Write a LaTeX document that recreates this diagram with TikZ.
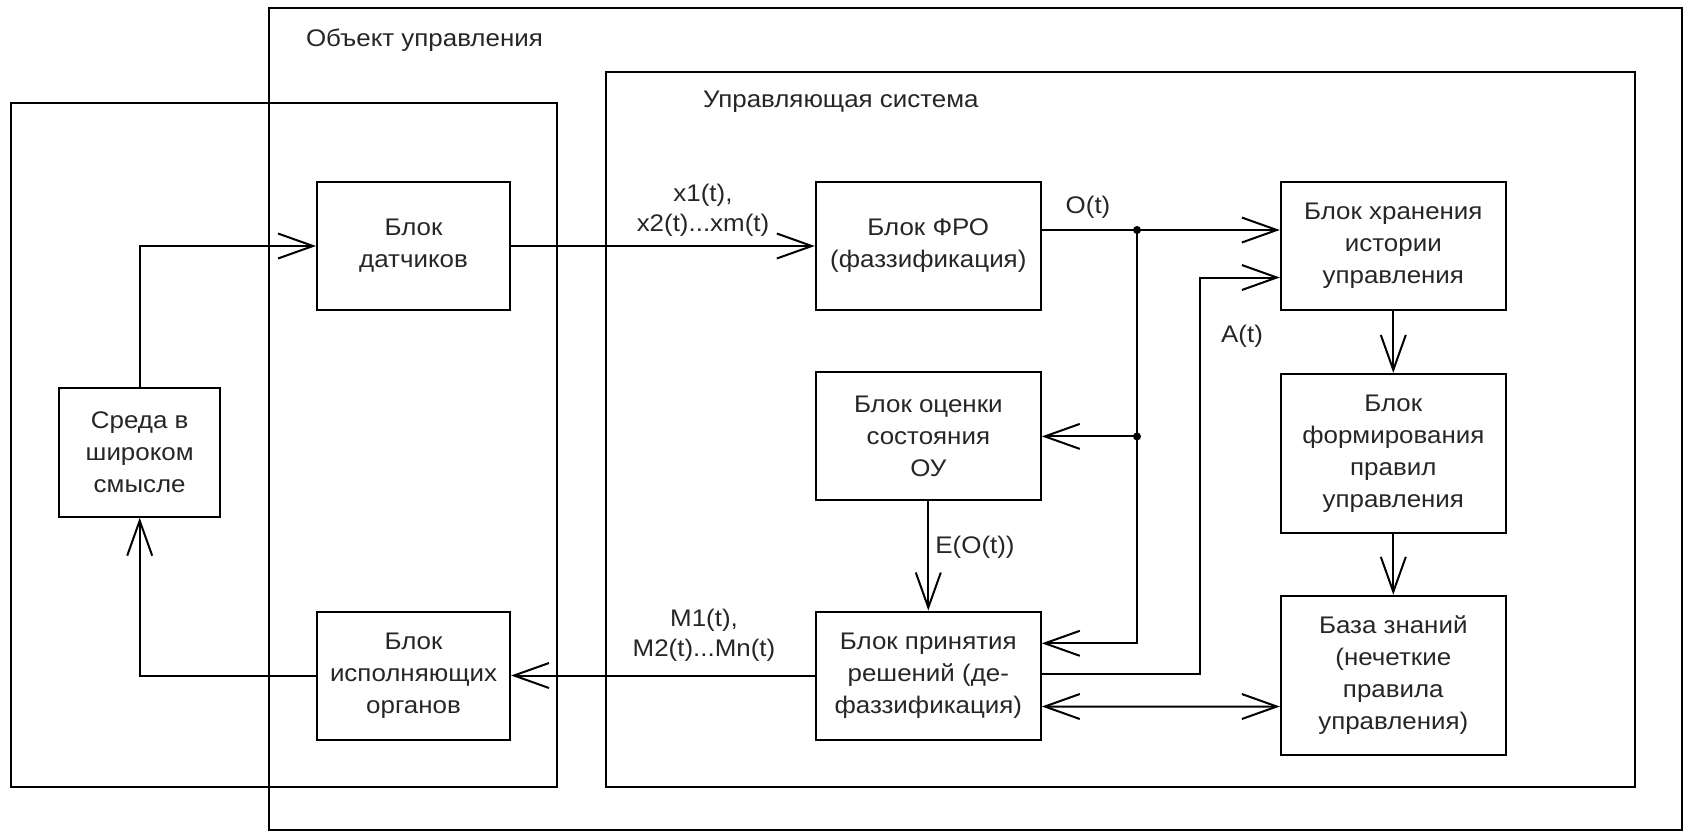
\documentclass[tikz,border=0pt]{standalone}
\usepackage{fontspec}
\setmainfont{Liberation Sans}[FakeStretch=1.08]
\usetikzlibrary{arrows.meta,calc}
\begin{document}
\begin{tikzpicture}[x=0.5pt,y=-0.5pt, line width=1pt,
  >={Straight Barb[length=17.5pt,width=12.5pt]},
  blk/.style={draw, align=center, inner sep=0pt, text=black!85, font=\fontsize{12}{16}\selectfont},
  sm/.style={blk, minimum width=96.5pt, minimum height=64pt},
  bg/.style={blk, minimum width=112.5pt, minimum height=64pt},
  lbl/.style={align=center, inner sep=0pt, text=black!85, font=\fontsize{12}{15}\selectfont},
  jdot/.style={circle, fill, inner sep=0pt, minimum size=4pt}]
\useasboundingbox (0,0) rectangle (1685,832);
% frames
\draw (269,7.5) rectangle (1682,830);
\draw (11,103) rectangle (557,787);
\draw (605.5,71.5) rectangle (1634.5,786.5);
\node[lbl, anchor=west] (t1) at (305,40) {Объект управления};
\node[lbl, anchor=west] (t2) at (702,102) {Управляющая система};
% blocks
\node[sm] (dat) at (413.5,246) {Блок\\датчиков};
\node[blk, minimum width=80.3pt, minimum height=64.2pt] (sreda) at (139.7,452.5) {Среда в\\широком\\смысле};
\node[sm] (isp) at (413.5,675.5) {Блок\\исполняющих\\органов};
\node[bg] (fro) at (928.3,246) {Блок ФРО\\(фаззификация)};
\node[bg] (ocen) at (928.3,436.4) {Блок оценки\\состояния\\ОУ};
\node[bg] (prin) at (928.3,675.5) {Блок принятия\\решений (де-\\фаззификация)};
\node[bg] (hran) at (1393.3,245.7) {Блок хранения\\истории\\управления};
\node[bg, minimum height=79.5pt] (form) at (1393.3,453.4) {Блок\\формирования\\правил\\управления};
\node[bg, minimum height=79.5pt] (baza) at (1393.3,675.3) {База знаний\\(нечеткие\\правила\\управления)};
% junctions
\coordinate (j1) at (1137,230);
\coordinate (j2) at (1137,436.4);
\coordinate (j3) at (1137,643.3);
\coordinate (ac) at (1200.4,674);
% connectors
\draw[->] (sreda.north) |- (dat.west);
\draw[->] (dat.east) -- (fro.west);
\draw[->] (fro.east |- j1) -- (hran.west |- j1);
\draw[->] (j1) -- (j3) -- (prin.east |- j3);
\draw[->] (j2) -- (ocen.east);
\draw[->] (ocen.south) -- (prin.north);
\draw[->] (prin.east |- ac) -- (ac) |- ($(hran.west)+(0,31.8)$);
\draw[<->] ($(prin.east)+(0,31)$) -- ($(baza.west)+(0,31.2)$);
\draw[->] (prin.west) -- (isp.east);
\draw[->] (isp.west) -| (sreda.south);
\draw[->] (hran.south) -- (form.north);
\draw[->] (form.south) -- (baza.north);
\node[jdot] (d1) at (j1) {};
\node[jdot] (d2) at (j2) {};
% labels
\node[lbl] (lx) at (703,210) {x1(t),\\x2(t)...xm(t)};
\node[lbl] (lo) at (1088,207) {O(t)};
\node[lbl] (la) at (1242,336) {A(t)};
\node[lbl] (le) at (975,547) {E(O(t))};
\node[lbl] (lm) at (704,635) {M1(t),\\M2(t)...Mn(t)};
\end{tikzpicture}
\end{document}
